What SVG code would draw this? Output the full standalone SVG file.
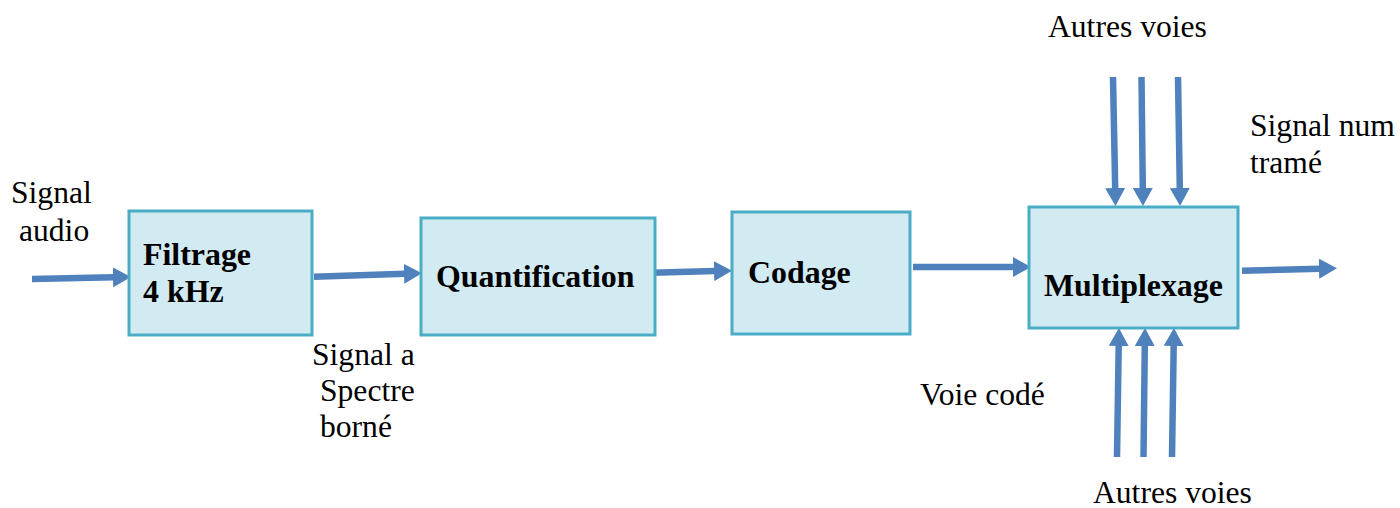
<svg xmlns="http://www.w3.org/2000/svg" width="1400" height="508" viewBox="0 0 1400 508">
<style>
.box{fill:#D2EAF1;stroke:#4BACC6;stroke-width:3}
.lbl{font-family:"Liberation Serif","Times New Roman",serif;font-size:31.6px;fill:#000}
.b{font-weight:bold;font-size:31.9px}
.arr{stroke:#4F81BD;stroke-width:6.5;fill:none;marker-end:url(#ah)}
</style>
<defs>
<marker id="ah" viewBox="0 0 18 20" refX="1" refY="10" markerWidth="18" markerHeight="20" markerUnits="userSpaceOnUse" orient="auto">
<path d="M0,0 L18,10 L0,20 z" fill="#4F81BD"/>
</marker>
</defs>
<rect width="1400" height="508" fill="#fff"/>
<g id="connectors">
<line class="arr" x1="32" y1="279" x2="114" y2="277.3"/>
<line class="arr" x1="314" y1="276.7" x2="405" y2="273.8"/>
<line class="arr" x1="652" y1="272.7" x2="715" y2="271.1"/>
<line class="arr" x1="913" y1="267" x2="1014" y2="267"/>
<line class="arr" x1="1242" y1="270.7" x2="1320" y2="268.7"/>
<line class="arr" x1="1113" y1="77" x2="1115.2" y2="189"/>
<line class="arr" x1="1141.5" y1="77" x2="1142.8" y2="189"/>
<line class="arr" x1="1178" y1="77" x2="1179.8" y2="189"/>
<line class="arr" x1="1117" y1="457" x2="1118.7" y2="345"/>
<line class="arr" x1="1143.5" y1="457" x2="1144.8" y2="345"/>
<line class="arr" x1="1172" y1="457" x2="1173.7" y2="345"/>
</g>
<g id="filtrage">
<rect class="box" x="129" y="211" width="183" height="124"/>
<text class="lbl b" x="143" y="265">Filtrage</text>
<text class="lbl b" x="143" y="302">4 kHz</text>
</g>
<g id="quantification">
<rect class="box" x="421" y="218" width="234" height="117"/>
<text class="lbl b" x="436" y="287">Quantification</text>
</g>
<g id="codage">
<rect class="box" x="732" y="212" width="178" height="122"/>
<text class="lbl b" x="748" y="283">Codage</text>
</g>
<g id="multiplexage">
<rect class="box" x="1029" y="207" width="209" height="121"/>
<text class="lbl b" x="1044" y="296">Multiplexage</text>
</g>
<g id="labels">
<text class="lbl" x="11" y="203">Signal</text>
<text class="lbl" x="19" y="241">audio</text>
<text class="lbl" x="312" y="365">Signal a</text>
<text class="lbl" x="320" y="401">Spectre</text>
<text class="lbl" x="320" y="437">borné</text>
<text class="lbl" x="920" y="405">Voie codé</text>
<text class="lbl" x="1048" y="37">Autres voies</text>
<text class="lbl" x="1093" y="503">Autres voies</text>
<text class="lbl" x="1250" y="136">Signal num</text>
<text class="lbl" x="1250" y="173">tramé</text>
</g>
</svg>
